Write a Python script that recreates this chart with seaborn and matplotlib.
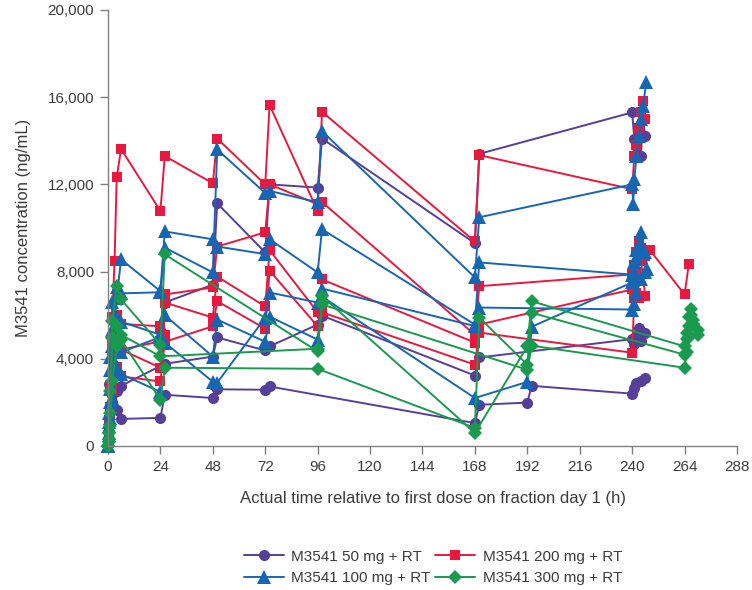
import pandas as pd
import matplotlib
matplotlib.use("Agg")
import matplotlib.pyplot as plt
from matplotlib.lines import Line2D
from matplotlib.ticker import FuncFormatter
import seaborn as sns

# --- cohorts ---
COHORTS = ["M3541 50 mg + RT", "M3541 100 mg + RT", "M3541 200 mg + RT", "M3541 300 mg + RT"]
COLORS = ["#553f99", "#1766b4", "#e8193f", "#1a9a4e"]
MARKERS = ["o", "^", "s", "D"]
MSIZE = [8, 9.5, 7.5, 7.5]

# --- 50 mg patients (time h, conc ng/mL) ---
p50_1_t = [0, 0.5, 1, 2, 4, 6, 24, 26, 48, 50, 72, 74, 168, 170, 192, 194, 240, 241, 242, 244, 246]
p50_1_c = [300, 1000, 1600, 2000, 1650, 1240, 1290, 2350, 2200, 2600, 2580, 2730, 1050, 1890, 1990, 2760, 2400, 2650, 2900, 3000, 3100]
p50_2_t = [0.5, 1, 2, 4, 6, 26, 48, 50, 72, 74, 96, 98, 168, 170, 240, 241, 242, 243, 244, 246]
p50_2_c = [2850, 2580, 2350, 2500, 2760, 3770, 4100, 4980, 4380, 4570, 5570, 5980, 3230, 4060, 4900, 4700, 5050, 5400, 4800, 5200]
p50_3_t = [24, 26, 48, 50, 72, 74, 96, 98, 168, 170, 240, 241, 242, 243, 244, 245, 246]
p50_3_c = [5300, 6580, 7400, 11130, 8880, 12000, 11850, 14100, 9300, 13400, 15300, 14100, 13400, 14500, 13300, 15000, 14200]

# --- 100 mg patients ---
p100_1_t = [0, 0.5, 1, 2, 4, 6, 24, 26, 48, 50, 72, 74, 96, 98, 168, 170, 240, 241, 242, 243, 244, 246, 247]
p100_1_c = [0, 900, 2600, 4600, 6800, 8560, 7100, 9840, 9480, 9150, 8800, 9480, 7960, 9940, 5570, 8420, 7860, 8460, 9000, 9250, 9800, 8900, 8100]
p100_2_t = [0, 0.5, 1, 2, 4, 6, 24, 26, 48, 50, 72, 74, 96, 98, 168, 170, 240, 240.5, 241, 242, 243, 244, 245, 246.5]
p100_2_c = [0, 1500, 4100, 6600, 7300, 7000, 7050, 9100, 7960, 13600, 11600, 11700, 11180, 14440, 7730, 10490, 12000, 11090, 12240, 13300, 14200, 15000, 15600, 16700]
p100_3_t = [0, 0.5, 1, 2, 4, 6, 24, 26, 48, 50, 72, 74, 96, 98, 168, 170, 240, 241, 242, 244, 246]
p100_3_c = [0, 1100, 3500, 5300, 5900, 5700, 5100, 4740, 2950, 2900, 5890, 7040, 6580, 7220, 5500, 6350, 6260, 6500, 7000, 7640, 7960]
p100_4_t = [0, 0.5, 1, 2, 4, 6, 24, 26, 48, 50, 72, 74, 96, 98, 168, 192, 194, 240, 241, 242, 244]
p100_4_c = [0, 600, 2000, 4100, 4650, 4300, 5000, 6000, 4100, 5800, 4780, 5930, 4880, 6850, 2200, 2940, 5470, 7500, 8000, 8600, 9000]
p100_5_t = [0, 0.5, 1, 2, 4, 6, 24]
p100_5_c = [0, 500, 1300, 2200, 3600, 3300, 2480]

# --- 200 mg patients ---
p200_1_t = [0, 0.5, 1, 2, 3, 4, 6, 24, 26, 48, 50, 72, 74, 96, 98, 168, 170, 240, 241, 242, 243, 244, 245, 246]
p200_1_c = [0, 900, 1800, 5900, 8480, 12330, 13620, 10780, 13300, 12050, 14100, 12000, 15640, 10780, 15330, 9380, 13340, 11780, 13300, 13800, 14600, 15300, 15840, 15000]
p200_2_t = [0, 0.5, 1, 2, 4, 6, 24, 26, 48, 50, 72, 74, 96, 98, 168, 170, 240, 241, 242, 243, 244, 246, 248, 264, 266]
p200_2_c = [0, 1200, 2700, 4400, 6030, 5600, 5490, 6950, 7270, 9150, 9800, 12000, 11090, 11190, 5100, 7330, 7870, 8300, 8900, 9400, 9100, 8700, 9000, 6950, 8370]
p200_3_t = [0, 0.5, 1, 2, 4, 6, 24, 26, 48, 50, 72, 74, 96, 98, 168, 170, 240, 241, 242, 244, 246]
p200_3_c = [0, 800, 2500, 4880, 5000, 4420, 4800, 6580, 5890, 7770, 6400, 8980, 6130, 7640, 4740, 5570, 7180, 7500, 8000, 8500, 6900]
p200_4_t = [0, 0.5, 1, 2, 4, 6, 24, 26, 48, 50, 72, 74, 96, 98, 168, 170, 240, 241, 242, 243]
p200_4_c = [0, 600, 1800, 2730, 3630, 3190, 2960, 4780, 5490, 6640, 5380, 8040, 5490, 6130, 3730, 5200, 4280, 6800, 7000, 6800]
p200_5_t = [0, 0.5, 1, 2, 4, 6, 24, 26]
p200_5_c = [0, 400, 1500, 2500, 4880, 4420, 3590, 5100]

# --- 300 mg patients ---
p300_1_t = [0, 0.5, 1, 2, 4, 6, 24, 26, 96, 98, 168, 192, 194, 264, 265, 266, 267, 268, 270]
p300_1_c = [0, 600, 2500, 5720, 7330, 6720, 4650, 8790, 4340, 6870, 600, 4570, 6640, 4570, 5200, 5900, 6300, 5800, 5300]
p300_2_t = [0, 0.5, 1, 2, 4, 6, 24, 26, 96, 168, 170, 192, 194, 264, 265, 266, 267, 268]
p300_2_c = [0, 300, 1500, 4970, 5500, 4880, 2120, 3590, 3540, 830, 5890, 3730, 6110, 4190, 4900, 5500, 6000, 5600]
p300_3_t = [0, 0.5, 1, 2, 4, 6, 24, 96, 98, 192, 194, 264, 265, 266, 268, 270]
p300_3_c = [0, 200, 900, 3000, 4600, 5100, 4110, 4460, 6490, 3500, 4600, 3590, 4300, 5000, 5600, 5100]

PATIENTS = {
    COHORTS[0]: [(p50_1_t, p50_1_c), (p50_2_t, p50_2_c), (p50_3_t, p50_3_c)],
    COHORTS[1]: [(p100_1_t, p100_1_c), (p100_2_t, p100_2_c), (p100_3_t, p100_3_c),
                 (p100_4_t, p100_4_c), (p100_5_t, p100_5_c)],
    COHORTS[2]: [(p200_1_t, p200_1_c), (p200_2_t, p200_2_c), (p200_3_t, p200_3_c),
                 (p200_4_t, p200_4_c), (p200_5_t, p200_5_c)],
    COHORTS[3]: [(p300_1_t, p300_1_c), (p300_2_t, p300_2_c), (p300_3_t, p300_3_c)],
}

rows = []
for cohort, pats in PATIENTS.items():
    for i, (t, c) in enumerate(pats):
        for ti, ci in zip(t, c):
            rows.append({"cohort": cohort, "patient": f"{cohort}_{i}", "time": ti, "conc": ci})
df = pd.DataFrame(rows)

sns.set_style("ticks")
plt.rcParams["font.family"] = ["Liberation Sans", "DejaVu Sans"]
TXT = "#3c3c3c"
GREY = "#808080"

fig = plt.figure(figsize=(7.52, 5.9), dpi=100)
ax = fig.add_axes([0.1436, 0.2441, 0.8364, 0.739])

# dessin par cohorte (ordre de superposition)
draw_order = [0, 2, 1, 3]
for k in draw_order:
    sub = df[df["cohort"] == COHORTS[k]]
    sns.lineplot(data=sub, x="time", y="conc", units="patient", estimator=None,
                 color=COLORS[k], marker=MARKERS[k], markersize=MSIZE[k],
                 markeredgewidth=0, lw=1.4, ax=ax, legend=False, clip_on=False)

ax.set_xlim(0, 288)
ax.set_ylim(0, 20000)
ax.set_xticks(range(0, 289, 24))
ax.set_yticks(range(0, 20001, 4000))
ax.yaxis.set_major_formatter(FuncFormatter(lambda v, p: f"{int(v):,}"))
ax.set_xlabel("Actual time relative to first dose on fraction day 1 (h)", fontsize=12, color=TXT)
ax.xaxis.set_label_coords(0.516, -0.104)
ax.set_ylabel("M3541 concentration (ng/mL)", fontsize=12, color=TXT, labelpad=12)
ax.tick_params(axis="both", labelsize=11, labelcolor=TXT, color=GREY, length=6, width=1, pad=4)
for s in ["top", "right"]:
    ax.spines[s].set_visible(False)
for s in ["left", "bottom"]:
    ax.spines[s].set_color(GREY)
    ax.spines[s].set_linewidth(1)

handles = [Line2D([], [], color=COLORS[k], marker=MARKERS[k], markersize=MSIZE[k],
                  markeredgewidth=0, lw=1.4) for k in range(4)]
fig.legend(handles, COHORTS, ncol=2, loc="center", bbox_to_anchor=(0.576, 0.038),
           frameon=False, fontsize=11, handlelength=2.6, columnspacing=0.3,
           handletextpad=0.5, labelspacing=0.5, labelcolor=TXT)

fig.savefig("out.png", dpi=100)
